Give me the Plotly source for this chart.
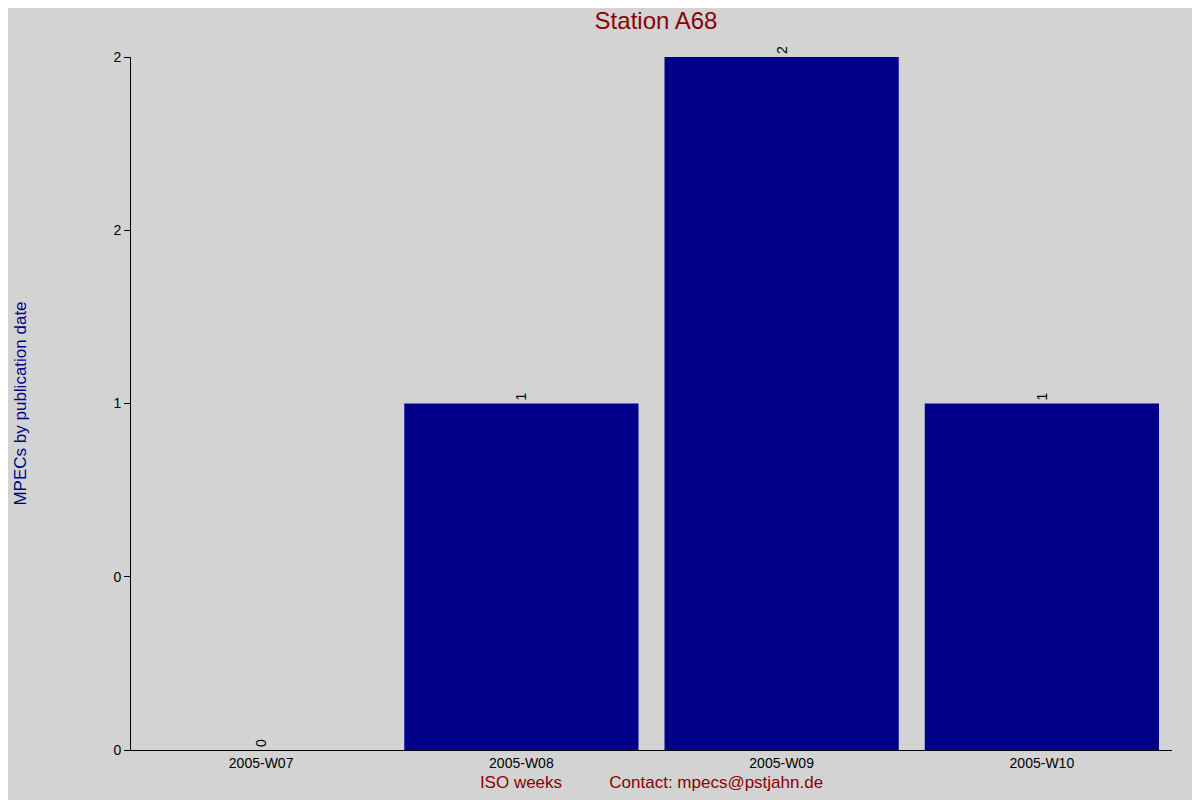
import plotly.graph_objects as go

weeks = ["2005-W07", "2005-W08", "2005-W09", "2005-W10"]
counts = [0, 1, 2, 1]
y_tick_vals = [0, 0.5, 1, 1.5, 2]
y_tick_text = ["0", "0", "1", "2", "2"]

fig = go.Figure()
fig.add_trace(go.Bar(x=weeks, y=counts, marker=dict(color="#00008b", line=dict(width=0)),
                     text=[str(c) for c in counts], textposition="outside",
                     textangle=-90, textfont=dict(color="black", size=14, family="Liberation Sans"),
                     cliponaxis=False))

fig.update_layout(
    width=1200, height=800,
    paper_bgcolor="#d3d3d3", plot_bgcolor="#d3d3d3",
    margin=dict(l=118, r=36, t=49, b=58),
    bargap=0.1, showlegend=False,
    font=dict(family="Liberation Sans", color="black", size=14),
    title=dict(text="Station A68", x=0.54, xanchor="center", y=0.995, yanchor="top",
               font=dict(size=24, color="#8b0000")),
)
fig.update_xaxes(showline=True, linecolor="black", ticks="", showgrid=False,
                 title=dict(text="ISO weeks          Contact: mpecs@pstjahn.de",
                            font=dict(color="#8b0000", size=17), standoff=6))
fig.update_yaxes(range=[0, 2], tickvals=y_tick_vals, ticktext=y_tick_text,
                 showline=True, linecolor="black", ticks="outside", ticklen=6,
                 tickcolor="black", showgrid=False, zeroline=False,
                 title=dict(text="MPECs by publication date",
                            font=dict(color="#00008b", size=17), standoff=82))

fig.write_html("out.html")
